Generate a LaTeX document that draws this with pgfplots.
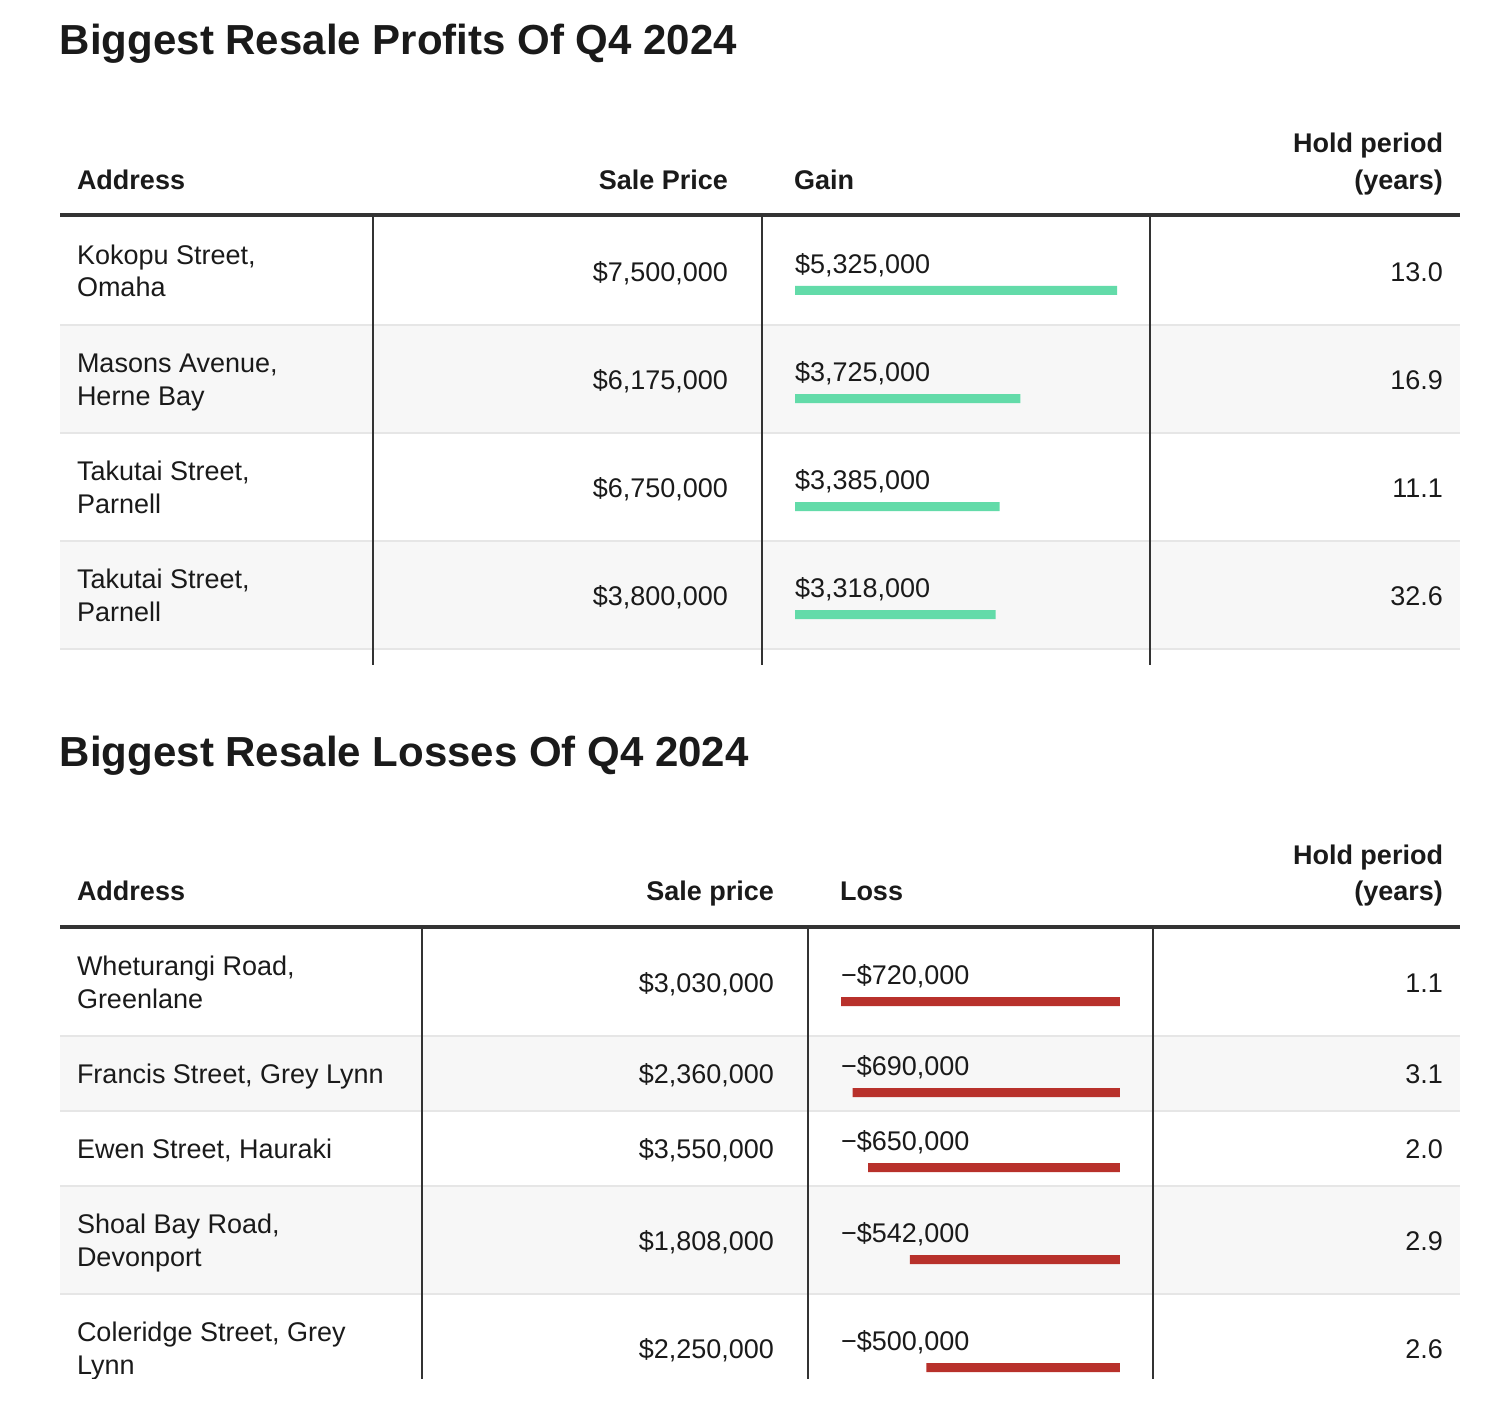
\documentclass[border=0pt]{standalone}
\usepackage{pgfplots}
\pgfplotsset{compat=1.18}
\usepackage{fontspec}
\setmainfont{Liberation Sans}
\definecolor{gainc}{HTML}{63DBA9}
\definecolor{lossc}{HTML}{B8312B}
\definecolor{rowshade}{HTML}{F7F7F7}
\definecolor{sepc}{HTML}{E6E6E6}
\definecolor{rulec}{HTML}{333333}
\definecolor{txt}{HTML}{1A1A1A}
\newcommand{\bodyf}{\fontsize{13.5}{16}\selectfont}
\newcommand{\headf}{\fontsize{13.5}{16}\selectfont\bfseries}
\newcommand{\titlef}{\fontsize{21}{24}\selectfont\bfseries}
\begin{document}
\begin{tikzpicture}[x=0.5pt,y=-0.5pt,every node/.style={inner sep=0pt,outer sep=0pt,text=txt}]
\path (0,0) rectangle (1496,1418);
\begin{scope}
\clip (0,0) rectangle (1496,1378);
% ---------- Table 1 ----------
\node[anchor=base west,font=\titlef] at (60,55) {Biggest Resale Profits Of Q4 2024};
\node[anchor=base west,font=\headf] at (77,190) {Address};
\node[anchor=base east,font=\headf] at (728,190) {Sale Price};
\node[anchor=base west,font=\headf] at (794,190) {Gain};
\node[anchor=base east,font=\headf] at (1443,153) {Hold period};
\node[anchor=base east,font=\headf] at (1443,190) {(years)};
\fill[rowshade] (60,325) rectangle (1460,433);
\fill[rowshade] (60,541) rectangle (1460,649);
\foreach \yy in {325,433,541,649} \draw[sepc,line width=1pt] (60,\yy)--(1460,\yy);
\draw[rulec,line width=2pt] (60,215)--(1460,215);
\foreach \xx in {373,762,1150} \draw[rulec,line width=1pt] (\xx,217)--(\xx,665);
% rows
\foreach \c/\la/\lb/\sp/\g/\h in {271/{Kokopu Street,}/{Omaha}/{7,500,000}/{5,325,000}/13.0,
  379/{Masons Avenue,}/{Herne Bay}/{6,175,000}/{3,725,000}/16.9,
  487/{Takutai Street,}/{Parnell}/{6,750,000}/{3,385,000}/11.1,
  595/{Takutai Street,}/{Parnell}/{3,800,000}/{3,318,000}/32.6}{
  \node[anchor=base west,font=\bodyf] at (77,\c-7) {\la};
  \node[anchor=base west,font=\bodyf] at (77,\c+26) {\lb};
  \node[anchor=base east,font=\bodyf] at (728,\c+10) {\$\sp};
  \node[anchor=base west,font=\bodyf] at (795,\c+2) {\$\g};
  \node[anchor=base east,font=\bodyf] at (1443,\c+10) {\h};
}
\begin{axis}[at={(397.5pt,-108.5pt)},anchor=north west,scale only axis,
  width=161pt,height=224pt,xmin=0,xmax=5325000,ymin=-665,ymax=-217,
  axis lines=none,xtick=\empty,ytick=\empty,enlargelimits=false,clip=false]
\addplot[xbar,bar width=4.5pt,bar shift=0pt,fill=gainc,draw=none]
  coordinates {(5325000,-290.5) (3725000,-398.5) (3385000,-506.5) (3318000,-614.5)};
\end{axis}
% ---------- Table 2 ----------
\node[anchor=base west,font=\titlef] at (60,766) {Biggest Resale Losses Of Q4 2024};
\node[anchor=base west,font=\headf] at (77,900) {Address};
\node[anchor=base east,font=\headf] at (774,900) {Sale price};
\node[anchor=base west,font=\headf] at (840,900) {Loss};
\node[anchor=base east,font=\headf] at (1443,864) {Hold period};
\node[anchor=base east,font=\headf] at (1443,900) {(years)};
\fill[rowshade] (60,1036) rectangle (1460,1111);
\fill[rowshade] (60,1186) rectangle (1460,1294);
\foreach \yy in {1036,1111,1186,1294} \draw[sepc,line width=1pt] (60,\yy)--(1460,\yy);
\draw[rulec,line width=2pt] (60,927)--(1460,927);
\foreach \xx in {422,808,1153} \draw[rulec,line width=1pt] (\xx,929)--(\xx,1380);
% two-line rows
\foreach \c/\la/\lb/\sp/\g/\h in {982.5/{Wheturangi Road,}/{Greenlane}/{3,030,000}/{720,000}/1.1,
  1240/{Shoal Bay Road,}/{Devonport}/{1,808,000}/{542,000}/2.9,
  1348/{Coleridge Street, Grey}/{Lynn}/{2,250,000}/{500,000}/2.6}{
  \node[anchor=base west,font=\bodyf] at (77,\c-7) {\la};
  \node[anchor=base west,font=\bodyf] at (77,\c+26) {\lb};
  \node[anchor=base east,font=\bodyf] at (774,\c+10) {\$\sp};
  \node[anchor=base west,font=\bodyf] at (841,\c+2) {−\$\g};
  \node[anchor=base east,font=\bodyf] at (1443,\c+10) {\h};
}
% one-line rows
\foreach \c/\la/\sp/\g/\h in {1073.5/{Francis Street, Grey Lynn}/{2,360,000}/{690,000}/3.1,
  1148.5/{Ewen Street, Hauraki}/{3,550,000}/{650,000}/2.0}{
  \node[anchor=base west,font=\bodyf] at (77,\c+10) {\la};
  \node[anchor=base east,font=\bodyf] at (774,\c+10) {\$\sp};
  \node[anchor=base west,font=\bodyf] at (841,\c+2) {−\$\g};
  \node[anchor=base east,font=\bodyf] at (1443,\c+10) {\h};
}
\begin{axis}[at={(420.5pt,-464.5pt)},anchor=north west,scale only axis,
  width=139.5pt,height=224.5pt,xmin=-720000,xmax=0,ymin=-1378,ymax=-929,
  axis lines=none,xtick=\empty,ytick=\empty,enlargelimits=false,clip=false]
\addplot[xbar,bar width=4.5pt,bar shift=0pt,fill=lossc,draw=none]
  coordinates {(-720000,-1001.5) (-690000,-1092.5) (-650000,-1167.5) (-542000,-1259.5) (-500000,-1367.5)};
\end{axis}
\end{scope}
\end{tikzpicture}
\end{document}
